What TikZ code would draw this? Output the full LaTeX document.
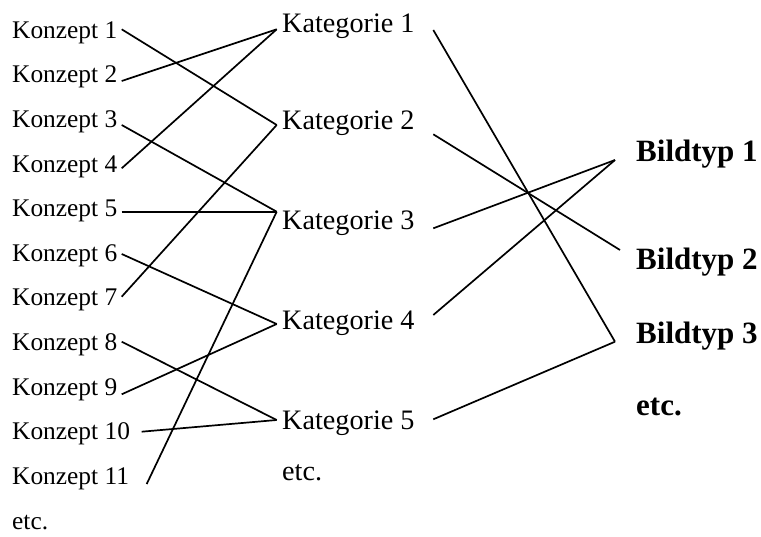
\documentclass[tikz,border=0pt]{standalone}
\usepackage{fontspec}
\setmainfont{Liberation Serif}
\begin{document}
\begin{tikzpicture}[x=1pt,y=-1pt,
  konzept/.style={anchor=base west,inner sep=0pt,font=\fontsize{25.4}{30}\selectfont},
  kat/.style={anchor=base west,inner sep=0pt,font=\fontsize{28.2}{33}\selectfont},
  bild/.style={anchor=base west,inner sep=0pt,font=\fontsize{31}{36}\selectfont\bfseries},
  link/.style={line width=1.7pt,black}]
\useasboundingbox (0,0) rectangle (761,537);
% Konzepte
\node[konzept] (c1) at (12,38.3) {Konzept 1};
\node[konzept] (c2) at (12,83) {Konzept 2};
\node[konzept] (c3) at (12,127.6) {Konzept 3};
\node[konzept] (c4) at (12,172.2) {Konzept 4};
\node[konzept] (c5) at (12,216.8) {Konzept 5};
\node[konzept] (c6) at (12,261.4) {Konzept 6};
\node[konzept] (c7) at (12,306) {Konzept 7};
\node[konzept] (c8) at (12,350.6) {Konzept 8};
\node[konzept] (c9) at (12,395.2) {Konzept 9};
\node[konzept] (c10) at (12,439.8) {Konzept 10};
\node[konzept] (c11) at (12,484.4) {Konzept 11};
\node[konzept] (cetc) at (12,529) {etc.};
% Kategorien
\node[kat] (k1) at (282,32.3) {Kategorie 1};
\node[kat] (k2) at (282,130) {Kategorie 2};
\node[kat] (k3) at (282,230) {Kategorie 3};
\node[kat] (k4) at (282,330) {Kategorie 4};
\node[kat] (k5) at (282,430) {Kategorie 5};
\node[kat] (ketc) at (282,480) {etc.};
% Bildtypen
\node[bild] (b1) at (636,161.7) {Bildtyp 1};
\node[bild] (b2) at (636,270) {Bildtyp 2};
\node[bild] (b3) at (636,343.3) {Bildtyp 3};
\node[bild] (betc) at (636,416) {etc.};
% connection points
\coordinate (c1p) at (121.7,29.3);
\coordinate (c2p) at (121.7,81);
\coordinate (c3p) at (121.7,125);
\coordinate (c4p) at (121.7,168.3);
\coordinate (c5p) at (121.7,211.7);
\coordinate (c6p) at (121.7,254);
\coordinate (c7p) at (121.7,296.7);
\coordinate (c8p) at (121.7,341.7);
\coordinate (c9p) at (121.7,394.3);
\coordinate (c10p) at (141.7,431.7);
\coordinate (c11p) at (146.7,484);
\coordinate (k1l) at (276.7,29.3);
\coordinate (k2l) at (276.7,125);
\coordinate (k3l) at (276.7,211.7);
\coordinate (k4l) at (276.7,324);
\coordinate (k5l) at (276.7,420);
\coordinate (k1r) at (433.3,30);
\coordinate (k2r) at (433.3,134.3);
\coordinate (k3r) at (433.3,228.3);
\coordinate (k4r) at (433.3,315);
\coordinate (k5r) at (433.3,419.3);
\coordinate (b1p) at (615,160);
\coordinate (b2p) at (620,250);
\coordinate (b3p) at (615,341.7);
% links Konzept -> Kategorie
\draw[link] (c1p) -- (k2l);
\draw[link] (c2p) -- (k1l);
\draw[link] (c3p) -- (k3l);
\draw[link] (c4p) -- (k1l);
\draw[link] (c5p) -- (k3l);
\draw[link] (c6p) -- (k4l);
\draw[link] (c7p) -- (k2l);
\draw[link] (c8p) -- (k5l);
\draw[link] (c9p) -- (k4l);
\draw[link] (c10p) -- (k5l);
\draw[link] (c11p) -- (k3l);
% links Kategorie -> Bildtyp
\draw[link] (k1r) -- (b3p);
\draw[link] (k2r) -- (b2p);
\draw[link] (k3r) -- (b1p);
\draw[link] (k4r) -- (b1p);
\draw[link] (k5r) -- (b3p);
\end{tikzpicture}
\end{document}
